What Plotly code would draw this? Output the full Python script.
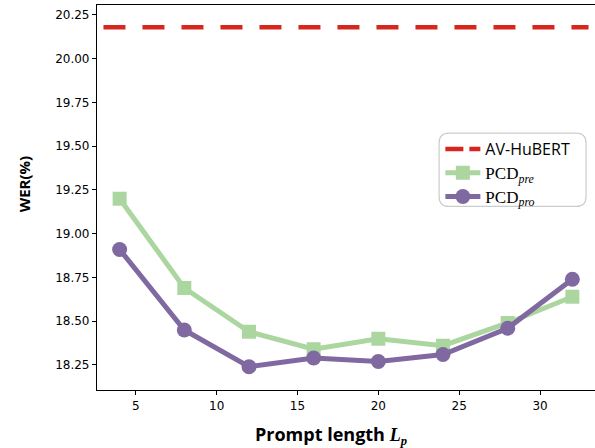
import plotly.graph_objects as go

prompt_len = [4, 8, 12, 16, 20, 24, 28, 32]
wer_pre = [19.20, 18.69, 18.44, 18.34, 18.40, 18.36, 18.49, 18.64]
wer_pro = [18.91, 18.45, 18.24, 18.29, 18.27, 18.31, 18.46, 18.74]
baseline_x = [3, 33]
baseline_wer = [20.18, 20.18]
y_ticks = [18.25, 18.50, 18.75, 19.00, 19.25, 19.50, 19.75, 20.00, 20.25]
x_ticks = [5, 10, 15, 20, 25, 30]

RED = "#d7261e"
GREEN = "#acd6a0"
PURPLE = "#8069a0"
SERIF = "Liberation Serif"

fig = go.Figure()
fig.add_trace(go.Scatter(
    x=baseline_x, y=baseline_wer, mode="lines", name="AV-HuBERT",
    line=dict(color=RED, width=4.5, dash="22px,17px"), showlegend=False,
))
# legend proxy for the baseline (shorter dash pattern, as in the legend)
fig.add_trace(go.Scatter(
    x=[None], y=[None], mode="lines", name="AV-HuBERT",
    line=dict(color=RED, width=4.5, dash="18px,6px"),
))
fig.add_trace(go.Scatter(
    x=prompt_len, y=wer_pre, mode="lines+markers",
    name=f'<span style="font-family:{SERIF};font-size:17px">PCD<sub><i>pre</i></sub></span>',
    line=dict(color=GREEN, width=5),
    marker=dict(symbol="square", size=14, color=GREEN),
))
fig.add_trace(go.Scatter(
    x=prompt_len, y=wer_pro, mode="lines+markers",
    name=f'<span style="font-family:{SERIF};font-size:17px">PCD<sub><i>pro</i></sub></span>',
    line=dict(color=PURPLE, width=5),
    marker=dict(symbol="circle", size=15, color=PURPLE),
))

# rounded legend frame (paper coordinates)
x0, x1, y0, y1, r = 0.687, 0.982, 0.477, 0.667, 0.02
ry = r * 498 / 385
fig.add_shape(
    type="path", xref="paper", yref="paper",
    path=(f"M {x0+r},{y1} L {x1-r},{y1} Q {x1},{y1} {x1},{y1-ry} "
          f"L {x1},{y0+ry} Q {x1},{y0} {x1-r},{y0} L {x0+r},{y0} "
          f"Q {x0},{y0} {x0},{y0+ry} L {x0},{y1-ry} Q {x0},{y1} {x0+r},{y1} Z"),
    line=dict(color="#cccccc", width=1.2), fillcolor="white", layer="above",
)

# axis titles
fig.add_annotation(
    xref="paper", yref="paper", x=0.470, y=-0.117, xanchor="center", yanchor="middle",
    showarrow=False,
    text=f'<b>Prompt length </b><span style="font-family:{SERIF}"><b><i>L<sub>p</sub></i></b></span>',
    font=dict(family="Open Sans", size=18, color="black"),
)
fig.add_annotation(
    xref="paper", yref="paper", x=-0.146, y=0.535, xanchor="center", yanchor="middle",
    showarrow=False, textangle=-90,
    text="<b>WER(%)</b>",
    font=dict(family="Open Sans", size=15, color="black"),
)

fig.update_layout(
    width=595, height=448,
    margin=dict(l=97, r=0, t=5, b=58),
    plot_bgcolor="white", paper_bgcolor="white",
    font=dict(family="DejaVu Sans", size=12, color="black"),
    showlegend=True,
    legend=dict(
        x=0.6895, y=0.670, xanchor="left", yanchor="top",
        bgcolor="rgba(0,0,0,0)", borderwidth=0,
        font=dict(family="Open Sans", size=16, color="black"),
        tracegroupgap=0, itemwidth=35,
    ),
    xaxis=dict(
        range=[2.6, 33.4], tickvals=x_ticks, automargin=False,
        showline=True, linecolor="black", linewidth=1.2, mirror=True,
        ticks="outside", ticklen=4, tickcolor="black",
        showgrid=False, zeroline=False,
    ),
    yaxis=dict(
        range=[18.107, 20.307], tickvals=y_ticks, tickformat=".2f", automargin=False,
        showline=True, linecolor="black", linewidth=1.2, mirror=False,
        ticks="outside", ticklen=4, tickcolor="black",
        showgrid=False, zeroline=False,
    ),
)

fig.write_html("out.html", config={"displayModeBar": False},
               post_script="document.body.style.margin='0px';")
